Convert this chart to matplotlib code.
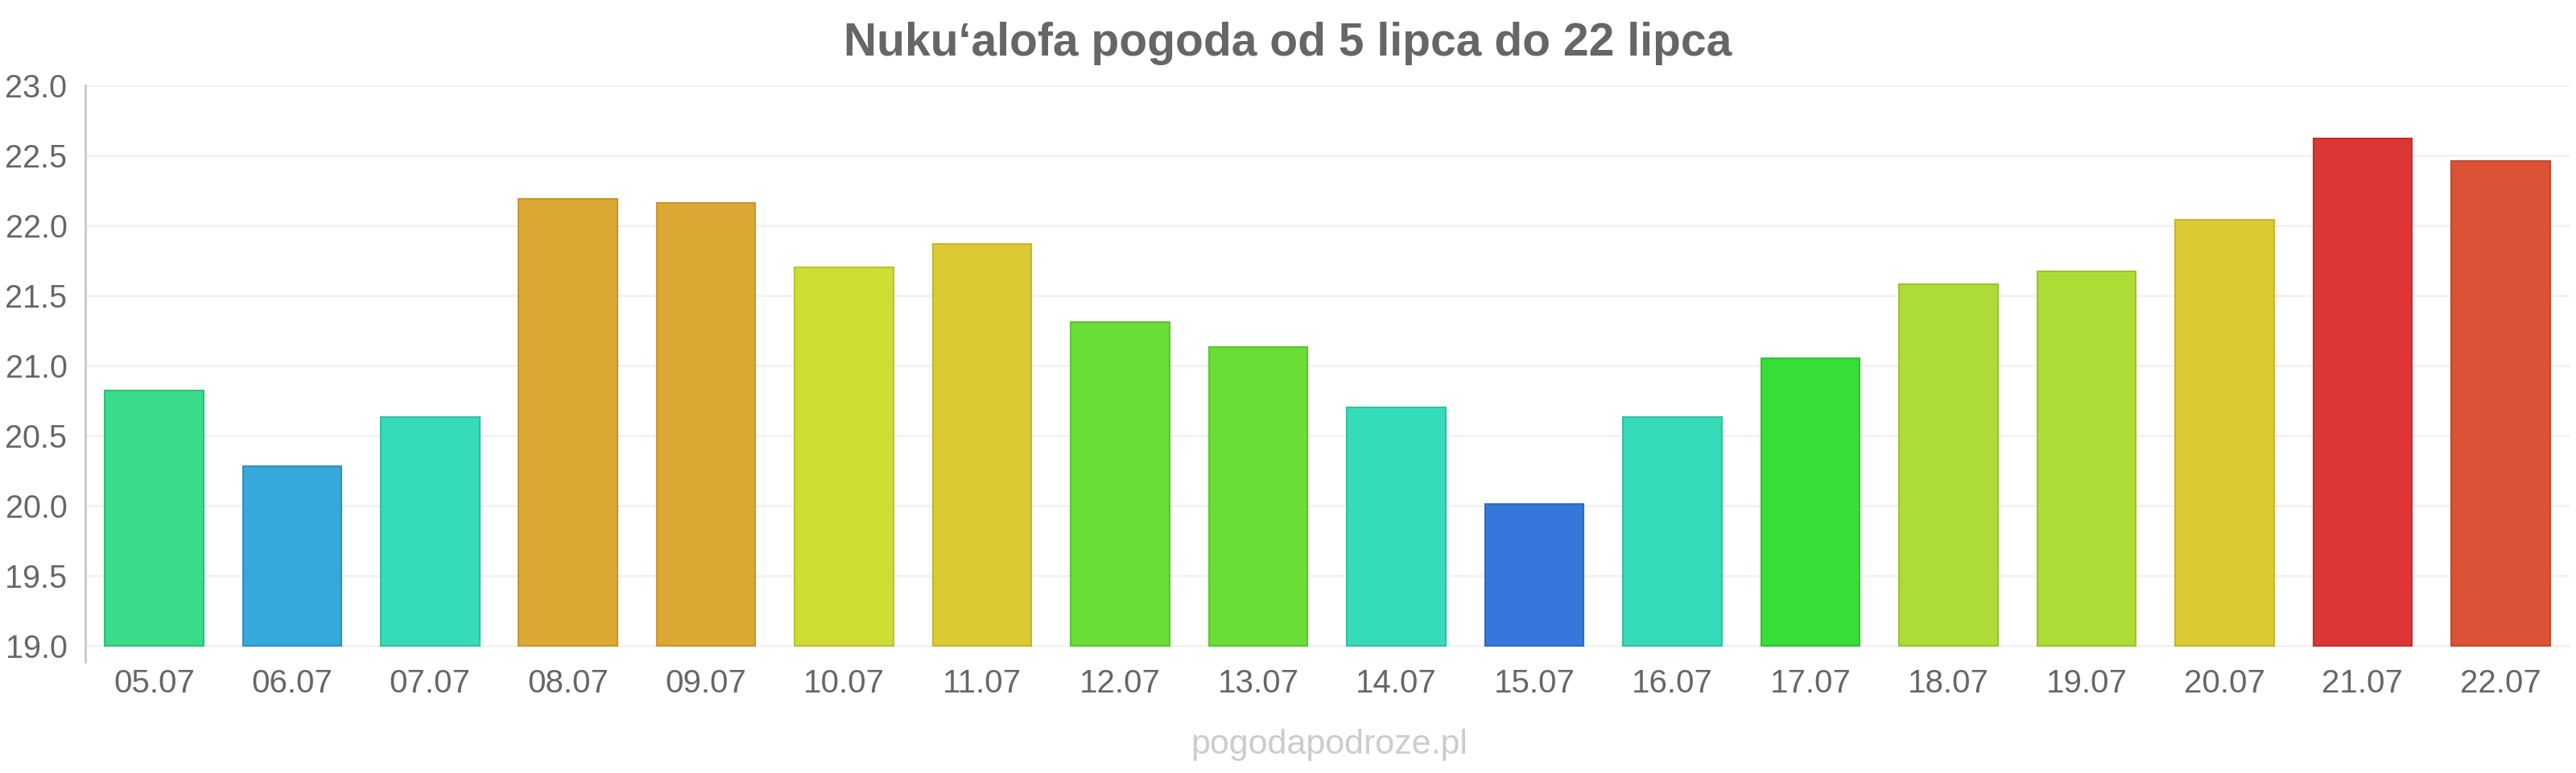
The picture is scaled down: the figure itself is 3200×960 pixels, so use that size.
import matplotlib.pyplot as plt
from matplotlib import font_manager

days = ["05.07", "06.07", "07.07", "08.07", "09.07", "10.07", "11.07", "12.07", "13.07",
        "14.07", "15.07", "16.07", "17.07", "18.07", "19.07", "20.07", "21.07", "22.07"]
temps = [20.82, 20.28, 20.63, 22.19, 22.16, 21.70, 21.87, 21.31, 21.13,
         20.70, 20.01, 20.63, 21.05, 21.58, 21.67, 22.04, 22.62, 22.46]
colors = ["#38dc8a", "#36a8da", "#36dcb8", "#dca834", "#dca834", "#cfdc34", "#dcca34", "#6ade36", "#6ade36",
          "#36dcb8", "#3677dc", "#36dcb8", "#36de36", "#aedc36", "#aedc36", "#dcca34", "#dc3636", "#dc5236"]
edges = ["#30c07a", "#3090c0", "#30c0a0", "#c8962c", "#c8962c", "#b8c42c", "#c8b42c", "#5ec42e", "#5ec42e",
         "#30c0a0", "#2f68c0", "#30c0a0", "#2ec42e", "#9ac42e", "#9ac42e", "#c8b42c", "#c42e2e", "#c4482e"]
yticks = [19.0, 19.5, 20.0, 20.5, 21.0, 21.5, 22.0, 22.5, 23.0]

names = {f.name for f in font_manager.fontManager.ttflist}
font = "Liberation Sans" if "Liberation Sans" in names else "DejaVu Sans"
plt.rcParams['font.family'] = [font, 'DejaVu Sans']

fig = plt.figure(figsize=(32, 9.6), dpi=100)
ax = fig.add_axes([0.033, 0.1438, 0.9645, 0.7458])

x = list(range(len(days)))
ax.bar(x, [t - 19 for t in temps], bottom=19, width=0.715, color=colors,
       edgecolor=edges, linewidth=1.5, zorder=3)

ax.set_xlim(-0.5, len(days) - 0.5)
ax.set_ylim(18.885, 23.0)
ax.set_yticks(yticks)
ax.set_yticklabels([f"{v:.1f}" for v in yticks])
ax.set_xticks(x)
ax.set_xticklabels(days)
ax.tick_params(axis='y', length=0, pad=16, labelsize=28.5, labelcolor="#666666")
ax.tick_params(axis='x', length=0, pad=6, labelsize=29, labelcolor="#666666")

for v in yticks:
    ax.axhline(v, color="#f2f2f2", linewidth=2, zorder=1)

for s in ["top", "right", "bottom"]:
    ax.spines[s].set_visible(False)
ax.spines["left"].set_color("#c8c8c8")
ax.spines["left"].set_linewidth(2)

fig.text(0.5, 0.944, "Nuku‘alofa pogoda od 5 lipca do 22 lipca", ha="center", va="center",
         fontsize=41, fontweight="bold", color="#666666")
fig.text(0.516, 0.036, "pogodapodroze.pl", ha="center", va="center",
         fontsize=31, color="#cccccc")

fig.savefig("out.png", dpi=100)
